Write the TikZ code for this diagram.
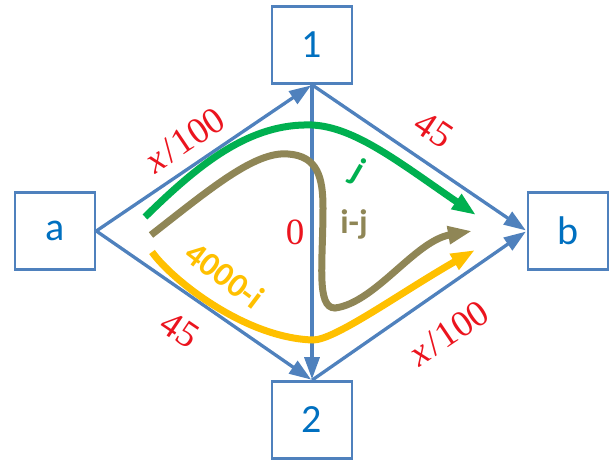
\documentclass[tikz,border=0pt]{standalone}
\usepackage{fontspec}
\newfontfamily\calib{Carlito}
\newfontfamily\lserif{Liberation Serif}
\usetikzlibrary{arrows.meta}
\definecolor{lineblue}{RGB}{79,129,189}
\definecolor{txtblue}{RGB}{0,112,192}
\definecolor{lblred}{RGB}{235,20,30}
\definecolor{pgreen}{RGB}{0,176,80}
\definecolor{polive}{RGB}{143,134,86}
\definecolor{pyellow}{RGB}{255,192,0}
\newcommand{\xfrac}{\textit{x}\kern3pt/\kern2pt100}
\begin{document}
\begin{tikzpicture}[x=1pt,y=1pt,
  vbox/.style={draw=lineblue, line width=2.6pt, fill=white, minimum width=80pt,
    minimum height=77pt, inner sep=0pt, text=txtblue, font=\calib\fontsize{40}{48}\selectfont},
  edge/.style={draw=lineblue, line width=3.3pt, -{Triangle[length=22pt,width=15pt]}, shorten >=1pt},
  wlbl/.style={text=lblred, font=\lserif\fontsize{37}{44}\selectfont, inner sep=0pt},
  flow/.style={line width=7pt, -{Triangle[length=24pt,width=17pt]}},
  flbl/.style={font=\calib\bfseries\fontsize{34}{40}\selectfont, inner sep=0pt}]
\useasboundingbox (0,0) rectangle (610,463);
\node[vbox] (a) at (55,232) {a};
\node[vbox] (n1) at (312,418) {1};
\node[vbox] (b) at (568,232) {b};
\node[vbox] (n2) at (312,43) {2};
\draw[edge] (a.east) -- (n1.south);
\draw[edge] (n1.south) -- (b.west);
\draw[edge] (a.east) -- (n2.north);
\draw[edge] (n2.north) -- (b.west);
\draw[edge] (n1.south) -- (n2.north);
\coordinate (gs) at (145,246);
\coordinate (ge) at (476,248);
\coordinate (os) at (151,228);
\coordinate (oe) at (472,232);
\coordinate (ys) at (152,211);
\coordinate (ye) at (475,213);
\draw[flow, pgreen] (gs) .. controls (200,300) and (250,340) .. (312,338)
  .. controls (355,336) and (400,300) .. (ge);
\draw[flow, polive] (os) .. controls (210,274) and (255,312) .. (288,309)
  .. controls (318,307) and (323,285) .. (323,255)
  .. controls (323,200) and (316,155) .. (335,155)
  .. controls (375,160) and (415,222) .. (oe);
\draw[flow, pyellow] (ys) .. controls (172,183) and (245,125) .. (313,123)
  .. controls (335,123) and (400,170) .. (ye);
\node[wlbl, rotate=34] (l1) at (185,323) {\xfrac};
\node[wlbl, rotate=-34] (l2) at (434,333) {45};
\node[wlbl, rotate=-34] (l3) at (180,133) {45};
\node[wlbl, rotate=34] (l4) at (449,130) {\xfrac};
\node[wlbl] (l0) at (295,231) {0};
\node[flbl, text=pgreen, rotate=-30] (lj) at (358,291) {j};
\node[flbl, text=polive] (lij) at (354,239) {i-j};
\node[flbl, text=pyellow, rotate=-37] (li) at (225,188) {4000-i};
\end{tikzpicture}
\end{document}
